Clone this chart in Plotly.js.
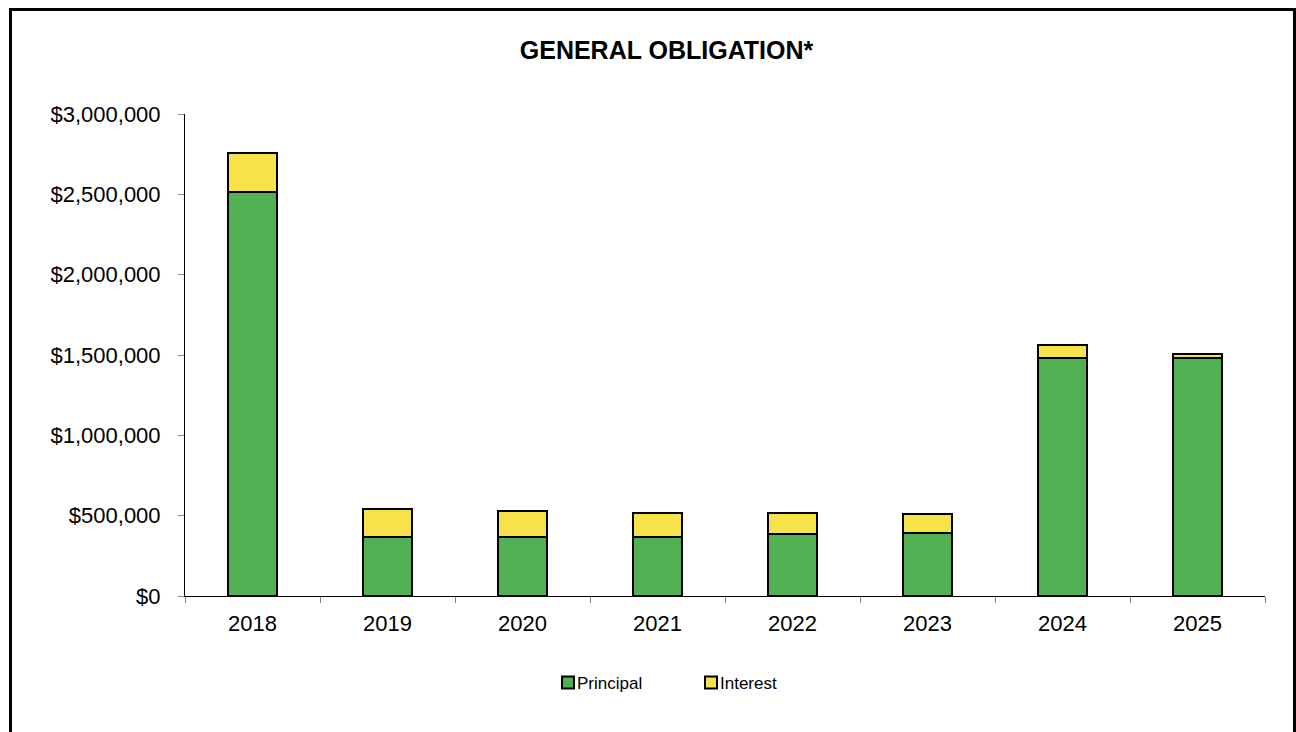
<!DOCTYPE html>
<html>
<head>
<meta charset="utf-8">
<script src="https://cdn.plot.ly/plotly-3.0.1.min.js"></script>
<style>
  html, body { margin: 0; padding: 0; background: #fff; overflow: hidden; }
  #chart { position: absolute; left: 0; top: 0; width: 1296px; height: 732px; }
  #frame { position: absolute; left: 9px; top: 8px; width: 1287px; height: 800px;
           border: 3px solid #000; box-sizing: border-box; pointer-events: none; }
</style>
</head>
<body>
<div id="chart"></div>
<div id="frame"></div>
<script>
const years = ['2018', '2019', '2020', '2021', '2022', '2023', '2024', '2025'];
const principal = [2516000, 365000, 369000, 369000, 388000, 394000, 1479000, 1479000];
const interest = [239000, 175000, 162000, 146000, 127000, 114000, 81000, 27000];
const seriesNames = ['Principal', 'Interest'];
const seriesColors = ['#52B052', '#F6E24A'];

const font = 'Liberation Sans, Arial, sans-serif';

const traces = [principal, interest].map((vals, i) => ({
  type: 'bar',
  name: seriesNames[i],
  x: years,
  y: vals,
  width: 0.36,
  marker: { color: seriesColors[i], line: { color: '#000', width: 2 } },
  hoverinfo: 'skip'
}));

const layout = {
  width: 1296, height: 732,
  margin: { l: 185, r: 31, t: 114, b: 136 },
  paper_bgcolor: '#fff', plot_bgcolor: '#fff',
  barmode: 'stack',
  showlegend: true,
  font: { family: font, color: '#000' },
  title: {
    text: '<b>GENERAL OBLIGATION*</b>',
    font: { family: font, size: 25, color: '#000' },
    xref: 'container', yref: 'container',
    x: 0.5143, xanchor: 'center',
    y: 0.932, yanchor: 'middle'
  },
  xaxis: {
    type: 'category',
    range: [-0.5, 7.5],
    showline: true, linecolor: '#000', linewidth: 1,
    showgrid: false, zeroline: false,
    ticks: 'outside', tickson: 'boundaries', ticklen: 6, tickcolor: '#888',
    ticklabelstandoff: 8,
    tickfont: { family: font, size: 22, color: '#000' }
  },
  yaxis: {
    range: [0, 3000000],
    dtick: 500000, tick0: 0,
    tickprefix: '$', tickformat: ',.0f',
    showline: true, linecolor: '#000', linewidth: 1,
    showgrid: false, zeroline: false,
    ticks: 'outside', ticklen: 6, tickcolor: '#888',
    ticklabelstandoff: 13,
    tickfont: { family: font, size: 22, color: '#000' }
  },
  legend: {
    orientation: 'h',
    xref: 'container', yref: 'container',
    x: 537 / 1296, xanchor: 'left',
    y: 0.067, yanchor: 'middle',
    font: { family: font, size: 17, color: '#000' },
    traceorder: 'normal',
    entrywidth: 98, entrywidthmode: 'pixels',
    itemwidth: 30,
    bgcolor: 'rgba(0,0,0,0)'
  }
};

Plotly.newPlot('chart', traces, layout, { displayModeBar: false, staticPlot: true }).then(gd => {
  // bring the legend swatches next to their labels, as in the reference
  gd.querySelectorAll('.legend .legendpoints').forEach(g => {
    g.setAttribute('transform', 'translate(11,0)');
  });
});
</script>
</body>
</html>
